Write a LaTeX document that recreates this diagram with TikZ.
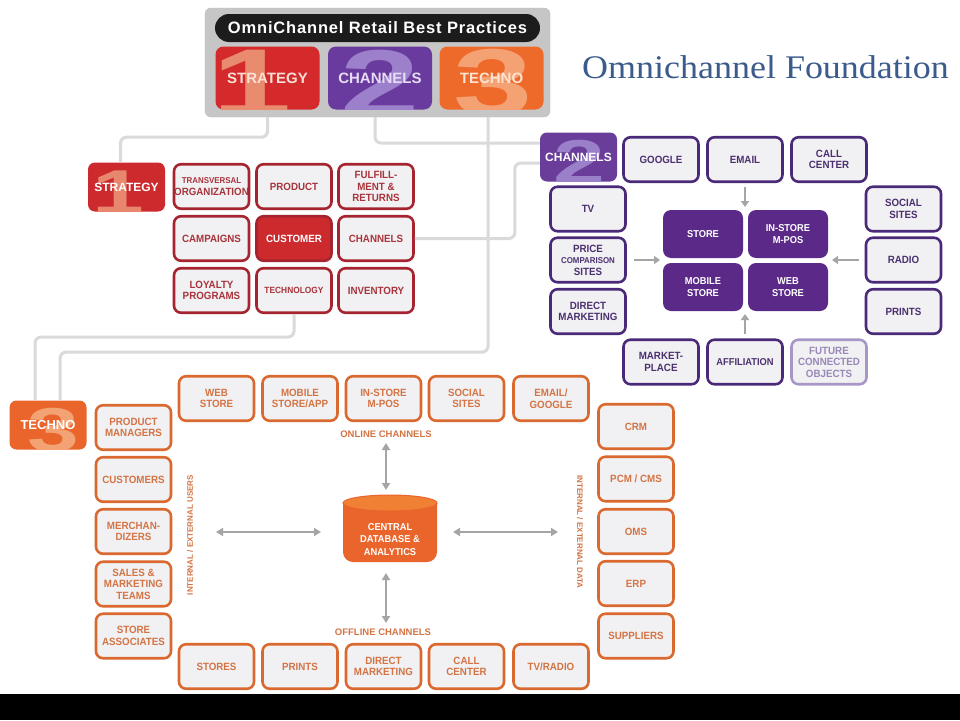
\documentclass[tikz,border=0pt]{standalone}
\usepackage{fontspec}
\usepackage{graphicx}
\setmainfont{Liberation Sans}
\newfontfamily\cf[FakeStretch=0.93]{Liberation Sans}
\newfontfamily\hf[LetterSpace=5]{Liberation Sans}
\newfontfamily\tf[FakeStretch=1.09]{Liberation Serif}
\usetikzlibrary{arrows.meta}
\definecolor{sred}{HTML}{CD2A2E}
\definecolor{sredB}{HTML}{A52430}
\definecolor{sredT}{HTML}{A8343C}
\definecolor{sredL}{HTML}{E6876E}
\definecolor{cpur}{HTML}{5B2A89}
\definecolor{cpurB}{HTML}{4A2A78}
\definecolor{cpurT}{HTML}{4B3070}
\definecolor{cpurL}{HTML}{9A80C8}
\definecolor{cpurF}{HTML}{6A3D9A}
\definecolor{cfutB}{HTML}{A797C6}
\definecolor{cfutT}{HTML}{9888B8}
\definecolor{torg}{HTML}{E9652C}
\definecolor{torgTop}{HTML}{F08034}
\definecolor{torgB}{HTML}{D9692F}
\definecolor{torgT}{HTML}{D37445}
\definecolor{torgL}{HTML}{F2A273}
\definecolor{cellbg}{HTML}{F1F0F2}
\definecolor{connc}{HTML}{DADADA}
\definecolor{arrc}{HTML}{A5A5A5}
\definecolor{hdrgray}{HTML}{C6C6C6}
\definecolor{pillblack}{HTML}{1C1C1C}
\definecolor{titleblue}{HTML}{3B5B8C}
\definecolor{hred}{HTML}{D42A2C}
\definecolor{hredL}{HTML}{E98B6E}
\definecolor{hredT}{HTML}{F9E0D6}
\definecolor{hpur}{HTML}{6A3B9E}
\definecolor{hpurL}{HTML}{9D80CC}
\definecolor{hpurT}{HTML}{E6DDF5}
\definecolor{horg}{HTML}{EE6A2B}
\definecolor{horgL}{HTML}{F4A274}
\definecolor{horgT}{HTML}{FCE3D2}
\begin{document}
\begin{tikzpicture}[x=1pt,y=-1pt,
  cell/.style={rounded corners=7pt, line width=2.6pt, fill=cellbg, align=center, inner sep=0pt,
    minimum width=75pt, minimum height=44.5pt, font=\cf\bfseries\fontsize{10.5}{11.5}\selectfont},
  scell/.style={cell, draw=sredB, text=sredT},
  ccell/.style={cell, draw=cpurB, text=cpurT},
  tcell/.style={cell, draw=torgB, text=torgT},
  ccore/.style={rounded corners=8pt, fill=cpur, text=white, align=center, inner sep=0pt,
    minimum width=80pt, minimum height=48pt, font=\cf\bfseries\fontsize{10}{12}\selectfont},
  wm/.style n args={4}{path picture={\node[text=#1, inner sep=0pt, font=\bfseries\fontsize{#4}{#4}\selectfont]
      at ([xshift=#3,yshift=-5pt]path picture bounding box.center) {\scalebox{1.5}[1]{#2}};}},
  hbox/.style={rounded corners=8pt, minimum width=104pt, minimum height=63pt, inner sep=0pt,
    font=\bfseries\fontsize{15}{15}\selectfont},
  secbox/.style={rounded corners=7pt, minimum width=77pt, minimum height=49pt, inner sep=0pt,
    text=white, font=\bfseries\fontsize{12}{12}\selectfont},
  conn/.style={draw=connc, line width=3pt, rounded corners=6pt},
  arr/.style={draw=arrc, line width=2.5pt, -{Triangle[length=6pt,width=8pt]}},
  darr/.style={draw=arrc, line width=2pt, {Triangle[length=7pt,width=8pt]}-{Triangle[length=7pt,width=8pt]}},
  lab/.style={text=torgT, inner sep=0pt, font=\bfseries\fontsize{9.5}{9.5}\selectfont},
  vlab/.style={text=torgT, inner sep=0pt, font=\bfseries\fontsize{8}{8}\selectfont}
]
\useasboundingbox (0,0) rectangle (960,720);
\fill[white] (0,0) rectangle (960,720);
\fill[black] (0,694) rectangle (960,720);

% ---- header ----
\node[fill=hdrgray, draw=black!25, rounded corners=6pt, minimum width=345pt, minimum height=109pt, inner sep=0pt] (hdr) at (377.5,62.5) {};
\node[fill=pillblack, rounded corners=14pt, minimum width=325pt, minimum height=28pt, inner sep=0pt, text=white,
  font=\hf\bfseries\fontsize{16.5}{16.5}\selectfont] (pill) at (377.5,28) {OmniChannel Retail Best Practices};
\node[hbox, fill=hred, text=hredT, wm={hredL}{1}{-15pt}{95}] (hS) at (267.5,78) {STRATEGY};
\node[hbox, fill=hpur, text=hpurT, wm={hpurL}{2}{0pt}{95}] (hC) at (380,78) {CHANNELS};
\node[hbox, fill=horg, text=horgT, wm={horgL}{3}{2pt}{95}] (hT) at (491.5,78) {TECHNO};

\node[anchor=base west, inner sep=0pt, text=titleblue, font=\tf\fontsize{33}{33}\selectfont] (title) at (582,78) {Omnichannel Foundation};

% ---- strategy ----
\node[secbox, fill=sred, wm={sredL}{1}{-8pt}{62}] (sS) at (126.5,187) {STRATEGY};
\node[scell] (sTr) at (211.5,186.5) {\fontsize{8.5}{10}\selectfont TRANSVERSAL\\ORGANIZATION};
\node[scell] (sPr) at (294,186.5) {PRODUCT};
\node[scell] (sFu) at (376,186.5) {FULFILL-\\MENT \&\\RETURNS};
\node[scell] (sCa) at (211.5,238.5) {CAMPAIGNS};
\node[scell, fill=sred, text=white] (sCu) at (294,238.5) {CUSTOMER};
\node[scell] (sCh) at (376,238.5) {CHANNELS};
\node[scell] (sLo) at (211.5,290.5) {LOYALTY\\PROGRAMS};
\node[scell] (sTe) at (294,290.5) {\fontsize{9}{10}\selectfont TECHNOLOGY};
\node[scell] (sIn) at (376,290.5) {INVENTORY};

% ---- channels ----
\node[secbox, fill=cpurF, wm={cpurL}{2}{1pt}{62}] (cC) at (578.5,157) {CHANNELS};
\node[ccell] (cGo) at (661,159.5) {GOOGLE};
\node[ccell] (cEm) at (745,159.5) {EMAIL};
\node[ccell] (cCa) at (829,159.5) {CALL\\CENTER};
\node[ccell] (cTv) at (588,209) {TV};
\node[ccell] (cPr) at (588,260) {PRICE\\{\fontsize{8.5}{10}\selectfont COMPARISON}\\SITES};
\node[ccell] (cDm) at (588,311.5) {DIRECT\\MARKETING};
\node[ccell] (cSo) at (903.5,209) {SOCIAL\\SITES};
\node[ccell] (cRa) at (903.5,260) {RADIO};
\node[ccell] (cPn) at (903.5,311.5) {PRINTS};
\node[ccell] (cMk) at (661,362) {MARKET-\\PLACE};
\node[ccell] (cAf) at (745,362) {\fontsize{10}{11}\selectfont AFFILIATION};
\node[cell, draw=cfutB, text=cfutT] (cFu) at (829,362) {FUTURE\\CONNECTED\\OBJECTS};
\node[ccore] (cSt) at (703,234) {STORE};
\node[ccore] (cIs) at (788,234) {IN-STORE\\M-POS};
\node[ccore] (cMo) at (703,287) {MOBILE\\STORE};
\node[ccore] (cWe) at (788,287) {WEB\\STORE};
\coordinate (caT1) at (745,187); \coordinate (caT2) at (745,207);
\coordinate (caL1) at (634,260); \coordinate (caL2) at (660,260);
\coordinate (caR1) at (859,260); \coordinate (caR2) at (832,260);
\coordinate (caB1) at (745,334); \coordinate (caB2) at (745,314);
\draw[arr] (caT1) -- (caT2);
\draw[arr] (caL1) -- (caL2);
\draw[arr] (caR1) -- (caR2);
\draw[arr] (caB1) -- (caB2);

% ---- techno ----
\node[secbox, fill=torg, wm={torgL}{3}{5pt}{62}, font=\bfseries\fontsize{13}{13}\selectfont] (tT) at (48,425) {TECHNO};
\node[tcell] (tWs) at (216.5,398.5) {WEB\\STORE};
\node[tcell] (tMs) at (300,398.5) {MOBILE\\STORE/APP};
\node[tcell] (tIs) at (383.5,398.5) {IN-STORE\\M-POS};
\node[tcell] (tSs) at (466.5,398.5) {SOCIAL\\SITES};
\node[tcell] (tEg) at (551,398.5) {EMAIL/\\GOOGLE};
\node[tcell] (tPm) at (133.5,427.5) {PRODUCT\\MANAGERS};
\node[tcell] (tCu) at (133.5,479.5) {CUSTOMERS};
\node[tcell] (tMe) at (133.5,531.5) {MERCHAN-\\DIZERS};
\node[tcell] (tSa) at (133.5,584) {SALES \&\\MARKETING\\TEAMS};
\node[tcell] (tSt) at (133.5,636) {STORE\\ASSOCIATES};
\node[tcell] (tCr) at (636,426.5) {CRM};
\node[tcell] (tPc) at (636,479) {PCM / CMS};
\node[tcell] (tOm) at (636,531.5) {OMS};
\node[tcell] (tEr) at (636,583.5) {ERP};
\node[tcell] (tSu) at (636,636) {SUPPLIERS};
\node[tcell] (tSr) at (216.5,666.5) {STORES};
\node[tcell] (tPn) at (300,666.5) {PRINTS};
\node[tcell] (tDm) at (383.5,666.5) {DIRECT\\MARKETING};
\node[tcell] (tCc) at (466.5,666.5) {CALL\\CENTER};
\node[tcell] (tTv) at (551,666.5) {TV/RADIO};
\node[lab] (onl) at (386,434) {ONLINE CHANNELS};
\node[lab] (off) at (383,632) {OFFLINE CHANNELS};
\node[vlab, rotate=90] (lu) at (190,535) {INTERNAL / EXTERNAL USERS};
\node[vlab, rotate=-90] (ld) at (580,532) {INTERNAL / EXTERNAL DATA};

% database cylinder
\fill[torg] (343,503) -- (343,552) arc[start angle=180, end angle=270, radius=10pt]
  -- (427,562) arc[start angle=270, end angle=360, radius=10pt] -- (437,503) -- cycle;
\fill[torgTop, draw=torg, line width=1pt] (390,503) ellipse[x radius=47pt, y radius=8pt];
\node[text=white, align=center, inner sep=0pt, font=\cf\bfseries\fontsize{10}{12.5}\selectfont] (db) at (390,539.5) {CENTRAL\\DATABASE \&\\ANALYTICS};
\coordinate (v1a) at (386,443); \coordinate (v1b) at (386,490);
\coordinate (v2a) at (386,573); \coordinate (v2b) at (386,623);
\coordinate (h1a) at (216,532); \coordinate (h1b) at (321,532);
\coordinate (h2a) at (453,532); \coordinate (h2b) at (558,532);
\draw[darr] (v1a) -- (v1b);
\draw[darr] (v2a) -- (v2b);
\draw[darr] (h1a) -- (h1b);
\draw[darr] (h2a) -- (h2b);

% ---- connectors ----
\draw[conn] (hS.south |- hdr.south) -- ++(0,20) -| ([xshift=-6pt]sS.north);
\draw[conn] ([xshift=-5pt]hC.south |- hdr.south) |- ([yshift=14pt]cC.west);
\draw[conn] ([xshift=-3.5pt]hT.south |- hdr.south) -- ++(0,235) -| ([xshift=12pt]tT.north);
\draw[conn] (sCh.east) -- ++(100,0) |- ([yshift=-6pt]cC.west);
\draw[conn] (sTe.south) -- ++(0,23) -| ([xshift=-13pt]tT.north);
\end{tikzpicture}
\end{document}
